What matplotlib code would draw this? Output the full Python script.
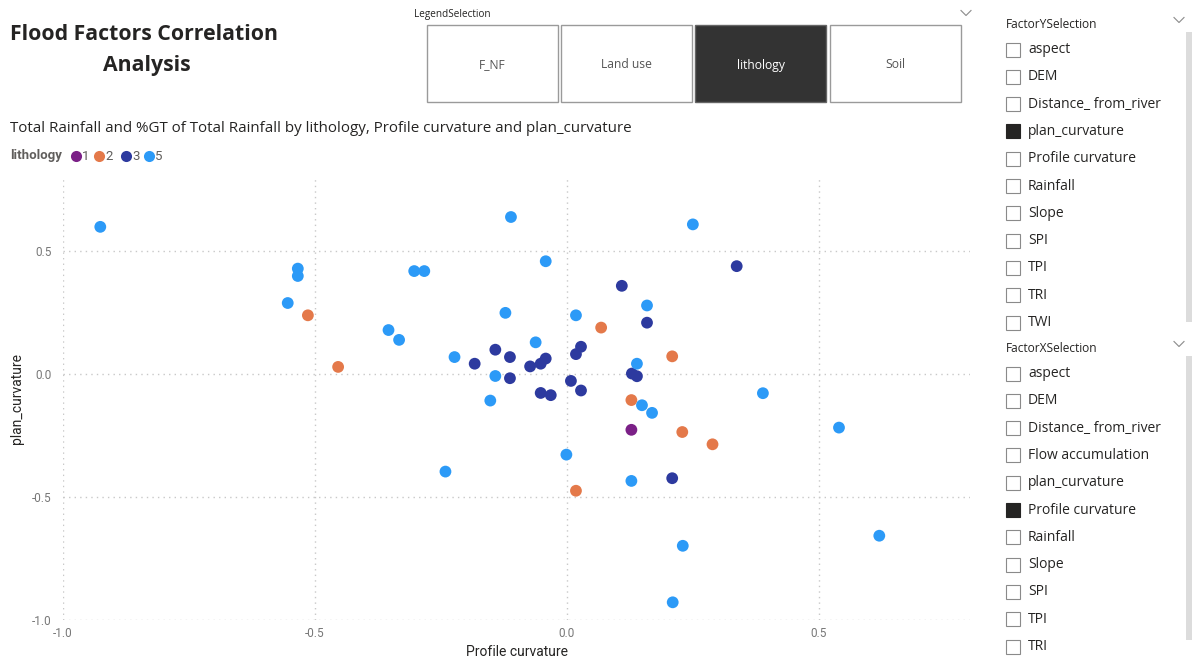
import matplotlib.pyplot as plt
from matplotlib.patches import Rectangle

W, H = 1202, 659

# lithology classes and their colours
lith_classes = ['1', '2', '3', '5']
lith_colors = ['#7B2087', '#E4794A', '#2D3A9F', '#2C9AF7']

# profile curvature (x) / plan curvature (y) per lithology class
profile_1 = [0.128]
plan_1 = [-0.226]

profile_2 = [-0.514, -0.454, 0.068, 0.209, 0.128, 0.229, 0.289, 0.018]
plan_2 = [0.24, 0.03, 0.19, 0.073, -0.105, -0.235, -0.285, -0.474]

profile_3 = [0.337, 0.109, 0.159, -0.142, -0.113, -0.183, -0.073, -0.052, -0.042,
             0.028, 0.018, -0.113, 0.008, 0.028, -0.052, -0.032, 0.129, 0.139, 0.209]
plan_3 = [0.44, 0.36, 0.21, 0.10, 0.07, 0.043, 0.032, 0.043, 0.064,
          0.112, 0.082, -0.016, -0.027, -0.066, -0.076, -0.085, 0.003, -0.008, -0.423]

profile_5 = [-0.926, -0.111, 0.250, -0.534, -0.534, -0.554, -0.354, -0.333, -0.303,
             -0.283, -0.042, -0.122, 0.018, 0.159, -0.062, -0.223, 0.139, -0.142,
             -0.152, 0.149, 0.169, 0.389, 0.540, -0.001, -0.241, 0.128, 0.230, 0.620, 0.210]
plan_5 = [0.60, 0.64, 0.61, 0.43, 0.40, 0.29, 0.18, 0.14, 0.42,
          0.42, 0.46, 0.25, 0.24, 0.28, 0.13, 0.07, 0.043, -0.007,
          -0.107, -0.126, -0.157, -0.077, -0.217, -0.327, -0.396, -0.434, -0.698, -0.657, -0.928]

xs = [profile_1, profile_2, profile_3, profile_5]
ys = [plan_1, plan_2, plan_3, plan_5]

x_ticks = [-1.0, -0.5, 0.0, 0.5]
y_ticks = [-1.0, -0.5, 0.0, 0.5]

legend_options = ['F_NF', 'Land use', 'lithology', 'Soil']
legend_selected = 'lithology'

y_factors = ['aspect', 'DEM', 'Distance_ from_river', 'plan_curvature', 'Profile curvature',
             'Rainfall', 'Slope', 'SPI', 'TPI', 'TRI', 'TWI']
y_selected = 'plan_curvature'
x_factors = ['aspect', 'DEM', 'Distance_ from_river', 'Flow accumulation', 'plan_curvature',
             'Profile curvature', 'Rainfall', 'Slope', 'SPI', 'TPI', 'TRI']
x_selected = 'Profile curvature'

UI = 'Open Sans'
DIN = 'Roboto'


def fx(px):
    return px / W


def fy(py):
    return 1 - py / H


def chevron(cx, cy):
    # thin dropdown arrow
    fig.lines.append(plt.Line2D([fx(cx - 5), fx(cx), fx(cx + 5)], [fy(cy - 2.5), fy(cy + 2.5), fy(cy - 2.5)],
                                transform=fig.transFigure, color='#8a8a8a', lw=0.8))


fig = plt.figure(figsize=(W / 100, H / 100), dpi=100)
fig.patch.set_facecolor('white')

# page title
fig.text(fx(144), fy(34), 'Flood Factors Correlation', ha='center', va='center',
         fontsize=15.3, fontweight='bold', family=UI, color='#252423')
fig.text(fx(147), fy(65), 'Analysis', ha='center', va='center',
         fontsize=15.3, fontweight='bold', family=UI, color='#252423')

# legend selection buttons
fig.text(fx(414), fy(15), 'LegendSelection', ha='left', va='center',
         fontsize=7.2, family=UI, color='#252423')
chevron(966, 13)
bx = [427, 561, 695, 830]
for left, name in zip(bx, legend_options):
    sel = name == legend_selected
    fig.patches.append(Rectangle((fx(left), fy(102)), 131 / W, 77 / H,
                                 transform=fig.transFigure,
                                 facecolor='#333333' if sel else 'white',
                                 edgecolor='#666666' if sel else '#9a9a9a', lw=1))
    fig.text(fx(left + 65.5), fy(65), name, ha='center', va='center', fontsize=8.7,
             family=UI, color='white' if sel else '#555555')

# factor slicers on the right
def slicer(header, items, selected, top, bar_top, bar_bottom):
    fig.text(fx(1006), fy(top), header, ha='left', va='center', fontsize=8.6,
             family=UI, color='#252423')
    chevron(1179, top - 5)
    fig.patches.append(Rectangle((fx(1186), fy(bar_bottom)), 6 / W, (bar_bottom - bar_top) / H,
                                 transform=fig.transFigure, facecolor='#dcdcdc', lw=0))
    for i, item in enumerate(items):
        yc = top + 24.5 + i * 27.3
        sel = item == selected
        fig.patches.append(Rectangle((fx(1006), fy(yc + 7)), 14 / W, 14 / H,
                                     transform=fig.transFigure,
                                     facecolor='#252423' if sel else 'white',
                                     edgecolor='#252423' if sel else '#8a8a8a', lw=0.8))
        fig.text(fx(1028), fy(yc), item, ha='left', va='center', fontsize=10,
                 family=UI, color='#252423')


slicer('FactorYSelection', y_factors, y_selected, 25, 32, 322)
slicer('FactorXSelection', x_factors, x_selected, 349, 356, 640)

# chart title and legend
fig.text(fx(10), fy(129), 'Total Rainfall and %GT of Total Rainfall by lithology, '
         'Profile curvature and plan_curvature', ha='left', va='center', fontsize=10.9,
         family=UI, color='#252423')
fig.text(fx(10), fy(156), 'lithology', ha='left', va='center', fontsize=9.5,
         fontweight='bold', family=DIN, color='#605E5C')
lx = [76, 99, 126, 149]
for x0, name, col in zip(lx, lith_classes, lith_colors):
    fig.lines.append(plt.Line2D([fx(x0)], [fy(156)], transform=fig.transFigure,
                                marker='o', ms=8, color=col, mec='none'))
    fig.text(fx(x0 + 6), fy(156), name, ha='left', va='center', fontsize=9.5,
             family=DIN, color='#605E5C')

# scatter
ax = fig.add_axes([fx(63), fy(620), (970 - 63) / W, (620 - 177.7) / H])
for x, y, col in zip(xs, ys, lith_colors):
    ax.scatter(x, y, s=72, color=col, edgecolors='none', zorder=3)

ax.set_xlim(-1.0, 0.8)
ax.set_ylim(-1.0, 0.8)
ax.set_xticks(x_ticks)
ax.set_yticks(y_ticks)
ax.set_xticklabels([f'{v:.1f}' for v in x_ticks])
ax.set_yticklabels([f'{v:.1f}' for v in y_ticks])
ax.grid(True, color='#c8c8c8', linestyle=(0, (1, 3)), lw=1)
ax.set_axisbelow(True)
for sp in ax.spines.values():
    sp.set_visible(False)
ax.tick_params(axis='x', length=0, labelsize=8.5, labelcolor='#777777', pad=5)
ax.tick_params(axis='y', length=0, labelsize=8.5, labelcolor='#777777', pad=8)
for lab in ax.get_xticklabels() + ax.get_yticklabels():
    lab.set_family(DIN)
ax.set_xlabel('Profile curvature', fontsize=10, family=DIN, color='#252423', labelpad=4)
ax.set_ylabel('plan_curvature', fontsize=10, family=DIN, color='#252423', labelpad=6)

fig.savefig('out.png', dpi=100)
